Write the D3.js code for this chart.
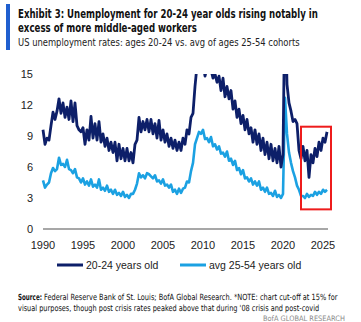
<!DOCTYPE html>
<html>
<head>
<meta charset="utf-8">
<script src="https://cdn.jsdelivr.net/npm/d3@7"></script>
<style>
  body { margin: 0; background: #fff; }
  svg { display: block; font-family: "Liberation Sans", Arial, sans-serif; }
  .hd { font-family: "DejaVu Sans Condensed", "Liberation Sans Narrow", sans-serif; }
</style>
</head>
<body>
<script>
// quarterly values, starting 1990 Q1
const firstYear = 1990;
const youth = [
  9.6, 8.2, 8.8, 8.6,   10.0, 11.3, 10.6, 11.4,  12.6, 11.2, 12.2, 10.8,  11.8, 10.6, 12.4, 10.4,
  12.2, 10.0, 9.6, 9.4,  9.8, 8.2, 9.6, 8.6,     10.9, 8.8, 10.2, 8.6,    10.4, 8.4, 9.2, 8.0,
  8.8, 7.6, 8.4, 7.4,    8.4, 6.6, 8.2, 6.8,     7.8, 6.6, 7.8, 6.6,      7.4, 6.4, 8.2, 8.6,
  10.8, 9.4, 10.4, 9.6,  10.6, 9.4, 10.6, 9.2,   10.2, 8.8, 10.5, 8.6,    9.6, 8.4, 9.2, 8.0,
  8.8, 7.8, 8.6, 7.6,    8.4, 7.6, 8.8, 8.2,     9.6, 9.2, 10.8, 11.2,    13.8, 15.8, 16.2, 15.4,
  16.0, 14.8, 15.6, 15.2, 15.4, 14.6, 15.0, 14.2, 14.8, 13.4, 14.6, 12.8, 13.8, 12.6, 13.4, 11.6,
  12.4, 10.8, 11.6, 10.2, 11.0, 9.6, 10.6, 9.2,  9.8, 8.4, 9.6, 8.2,      9.2, 7.6, 8.8, 7.2,
  8.4, 6.8, 8.2, 6.6,    7.8, 6.4, 8.0, 6.0,     7.2, 23.0, 14.0, 12.2,   11.4, 10.4, 10.6, 10.2,
  7.6, 6.8, 8.0, 6.6,    7.6, 5.0, 7.2, 6.4,     7.8, 7.0, 8.4, 7.6,      8.8, 8.4, 9.4
];
const prime = [
  4.7, 4.0, 4.3, 4.5,    5.4, 5.9, 5.6, 5.8,     6.9, 6.2, 6.3, 6.0,      6.7, 5.8, 5.7, 5.4,
  5.8, 5.0, 4.9, 4.5,    4.9, 4.3, 4.6, 4.2,     4.8, 4.1, 4.3, 4.0,      4.8, 3.8, 4.0, 3.7,
  4.2, 3.6, 3.8, 3.4,    3.8, 3.3, 3.5, 3.2,     3.6, 3.1, 3.3, 3.0,      3.4, 3.4, 3.8, 4.4,
  5.4, 5.0, 5.2, 4.9,    5.4, 5.3, 5.1, 4.9,     5.2, 4.6, 4.7, 4.4,      4.8, 4.2, 4.3, 4.0,
  4.3, 3.6, 3.8, 3.4,    3.9, 3.5, 3.9, 4.0,     4.6, 4.5, 5.6, 6.4,      8.2, 8.8, 9.4, 9.2,
  9.6, 8.7, 8.8, 8.4,    8.9, 8.0, 8.2, 7.7,     8.0, 7.3, 7.4, 7.0,      7.5, 6.6, 6.8, 6.2,
  6.6, 5.7, 5.9, 5.3,    5.7, 4.9, 5.0, 4.6,     4.9, 4.3, 4.6, 4.2,      4.6, 3.8, 4.0, 3.6,
  4.0, 3.4, 3.5, 3.2,    3.7, 3.1, 3.3, 3.0,     3.4, 12.7, 9.2, 7.4,     6.4, 5.6, 5.0, 4.2,
  3.8, 3.2, 3.2, 3.0,    3.4, 3.1, 3.3, 3.2,     3.6, 3.3, 3.6, 3.4,      3.8, 3.6, 3.8
];
const yTicks = [0, 3, 6, 9, 12, 15];
const xTicks = [1990, 1995, 2000, 2005, 2010, 2015, 2020, 2025];
const seriesNames = ["20-24 years old", "avg 25-54 years old"];
const highlight = [2022.25, 2026, 1.9, 9.9]; // years and values framed in red

const dark = "#0d1f69", light = "#1ba1e2";

const svg = d3.select("body").append("svg")
  .attr("width", 361).attr("height", 322);

// squeeze a text horizontally so it spans the given width
function fit(txt, x0, y0, width, opts) {
  const el = svg.append("text").attr("class", "hd")
    .attr("font-size", opts.size).attr("fill", opts.fill || "#111")
    .attr("font-weight", opts.bold ? "bold" : null)
    .text(txt);
  const w = el.node().getComputedTextLength();
  const k = width / w;
  const left = opts.anchor === "end" ? x0 - width : x0;
  el.attr("transform", `translate(${left},${y0}) scale(${k},1)`);
  return el;
}

// header
svg.append("rect").attr("x", 6).attr("y", 4).attr("width", 4).attr("height", 46).attr("fill", "#1f5fcf");
fit("Exhibit 3: Unemployment for 20-24 year olds rising notably in", 18, 18, 300, { size: 12, bold: true });
fit("excess of more middle-aged workers", 18, 32, 179, { size: 12, bold: true });
fit("US unemployment rates: ages 20-24 vs. avg of ages 25-54 cohorts", 18, 46, 282, { size: 10.5, fill: "#222" });

// scales
const x = d3.scaleLinear().domain([1990, 2025]).range([43, 323]);
const y = d3.scaleLinear().domain([0, 15]).range([229, 74]);
const t = i => firstYear + i * 0.25;

// axes
svg.append("line").attr("x1", 43).attr("x2", 328).attr("y1", y(0)).attr("y2", y(0))
  .attr("stroke", "#8a8a8a").attr("stroke-width", 1.5);
svg.selectAll(".ylab").data(yTicks).enter().append("text")
  .attr("x", 33).attr("y", d => y(d)).attr("dy", "0.35em").attr("text-anchor", "end")
  .attr("font-size", 11).attr("fill", "#222").text(d => d);
svg.selectAll(".xlab").data(xTicks).enter().append("text")
  .attr("x", d => x(d)).attr("y", 245).attr("dy", "0.35em").attr("text-anchor", "middle")
  .attr("font-size", 11).attr("fill", "#222").text(d => d);

// lines, cut off at 15
svg.append("clipPath").attr("id", "cut").append("rect")
  .attr("x", 0).attr("y", y(15)).attr("width", 361).attr("height", y(0) - y(15) + 5);
const line = d3.line().x((d, i) => x(t(i))).y(d => y(d));
const g = svg.append("g").attr("clip-path", "url(#cut)");
g.append("path").datum(prime).attr("d", line).attr("fill", "none")
  .attr("stroke", light).attr("stroke-width", 2.6).attr("stroke-linejoin", "round");
g.append("path").datum(youth).attr("d", line).attr("fill", "none")
  .attr("stroke", dark).attr("stroke-width", 2.8).attr("stroke-linejoin", "round");

// red highlight box
svg.append("rect")
  .attr("x", x(highlight[0])).attr("y", y(highlight[3]))
  .attr("width", x(highlight[1]) - x(highlight[0])).attr("height", y(highlight[2]) - y(highlight[3]))
  .attr("fill", "none").attr("stroke", "#ee1c1c").attr("stroke-width", 2);

// legend
const leg = [{ name: seriesNames[0], c: dark, x: 57 }, { name: seriesNames[1], c: light, x: 180 }];
leg.forEach(l => {
  svg.append("line").attr("x1", l.x).attr("x2", l.x + 26).attr("y1", 265).attr("y2", 265)
    .attr("stroke", l.c).attr("stroke-width", 3);
  svg.append("text").attr("x", l.x + 29).attr("y", 265).attr("dy", "0.35em")
    .attr("font-size", 10.5).attr("fill", "#222").text(l.name);
});

// source
fit("Source:", 18, 300, 24, { size: 8.5, bold: true });
fit("Federal Reserve Bank of St. Louis; BofA Global Research. *NOTE: chart cut-off at 15% for", 44, 300, 294, { size: 8.5 });
fit("visual purposes, though post crisis rates peaked above that during '08 crisis and post-covid", 18, 311, 302, { size: 8.5 });
fit("BofA GLOBAL RESEARCH", 345, 321, 82, { size: 7.5, fill: "#8a8a8a", anchor: "end" });
</script>
</body>
</html>
